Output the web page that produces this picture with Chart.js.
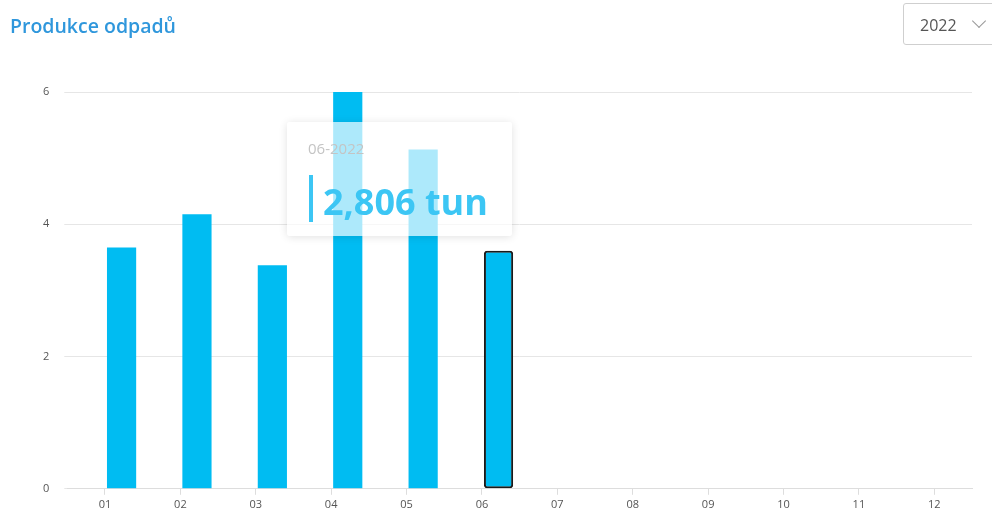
<!DOCTYPE html>
<html>
<head>
<meta charset="utf-8">
<script src="https://cdn.jsdelivr.net/npm/chart.js@4.4.0/dist/chart.umd.min.js"></script>
<title>Produkce odpadů</title>
<style>
	body { margin:0; background:#fff; font-family:"Open Sans", sans-serif; overflow:hidden; }
	#wrap { position:absolute; left:0; top:0; width:992px; height:514px; }
	#title { position:absolute; left:10px; top:12px; font-size:19.5px; font-weight:600; color:#2f97dc; }
	#year { position:absolute; left:903px; top:3px; width:110px; height:42px; border:1px solid #cfcfcf; border-radius:3px; box-sizing:border-box; }
	#year span { position:absolute; left:16px; top:10px; font-size:16px; color:#555; }
	#year i { position:absolute; left:70px; top:12px; width:9px; height:9px; border-right:1px solid #999; border-bottom:1px solid #999; transform:rotate(45deg); }
	#tip { position:absolute; left:287px; top:122px; width:225px; height:114px; background:rgba(255,255,255,0.68); border-radius:3px; box-shadow:0 1px 8px rgba(0,0,0,0.12); }
	#tip .d { position:absolute; left:21px; top:16px; font-size:15px; color:#c4c4c4; }
	#tip .m { position:absolute; left:22px; top:53px; width:4px; height:47px; background:#3cc6f4; }
	#tip .v { position:absolute; left:36px; top:56px; font-size:36px; font-weight:700; color:#3cc6f4; line-height:47px; }
</style>
</head>
<body>
<div id="wrap"><canvas id="chart" width="992" height="514"></canvas></div>
<div id="title">Produkce odpadů</div>
<div id="year"><span>2022</span><i></i></div>
<div id="tip"><div class="d">06-2022</div><div class="m"></div><div class="v">2,806 tun</div></div>
<script type="text/javascript">
	const months = ['01','02','03','04','05','06','07','08','09','10','11','12'];
	const tuny = [3.65, 4.15, 3.38, 6.0, 5.13, 3.6, null, null, null, null, null, null];
	const prazdne = [null, null, null, null, null, null, null, null, null, null, null, null];
	const yTicks = [0, 2, 4, 6];
	const activeIndex = 5;

	const ctx = document.getElementById('chart').getContext('2d');
	const myChart = new Chart(ctx, {
		type: 'bar',
		data: {
			labels: months,
			datasets: [{
				label: '',
				data: prazdne,
				backgroundColor: '#00bcf2'
			}, {
				label: 'Produkce',
				data: tuny,
				backgroundColor: '#00bcf2',
				borderColor: '#1a1a1a',
				borderWidth: c => c.dataIndex === activeIndex ? 2 : 0,
				borderRadius: c => c.dataIndex === activeIndex ? 3 : 0,
				borderSkipped: false
			}]
		},
		options: {
			responsive: false,
			animation: false,
			events: [],
			categoryPercentage: 0.88,
			barPercentage: 0.88,
			layout: { padding: { top: 92, left: 28, right: 20, bottom: 0 } },
			plugins: { legend: { display: false }, tooltip: { enabled: false } },
			scales: {
				x: {
					grid: { offset: false, drawOnChartArea: false, tickLength: 6, color: '#dddddd' },
					border: { color: '#dddddd' },
					ticks: { color: '#555', font: { family: 'Open Sans', size: 11 }, padding: 3 }
				},
				y: {
					min: 0, max: 6,
					afterBuildTicks: s => { s.ticks = yTicks.map(v => ({ value: v })); },
					grid: { color: '#e6e6e6', tickLength: 3 },
					border: { display: false },
					ticks: { color: '#555', font: { family: 'Open Sans', size: 11 }, padding: 15 }
				}
			}
		}
	});
</script>
</body>
</html>
